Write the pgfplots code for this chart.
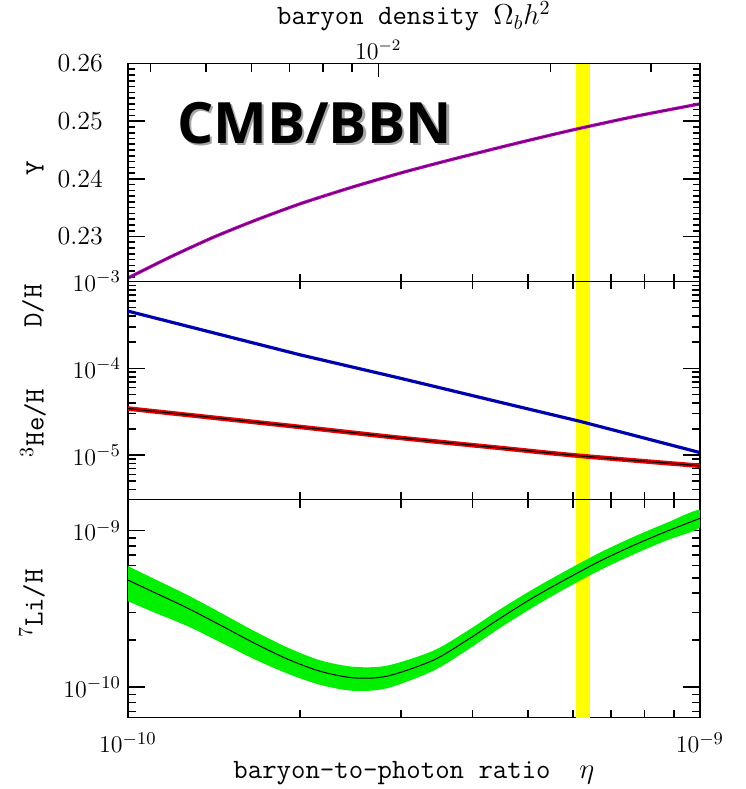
\documentclass[border=0pt]{standalone}
\usepackage{fontspec}
\usepackage{pgfplots}
\pgfplotsset{compat=1.18}
\newfontfamily\cmbfont{Open Sans}
\definecolor{mymag}{RGB}{185,0,185}
\definecolor{mymagd}{RGB}{90,0,100}
\definecolor{myblue}{RGB}{0,0,215}
\definecolor{mybluedark}{RGB}{0,0,110}
\definecolor{myred}{RGB}{235,0,0}
\definecolor{mygreen}{RGB}{0,240,0}
\definecolor{myyellow}{RGB}{255,255,0}
\pgfplotsset{
  every axis/.append style={scale only axis, width=286pt, height=109pt, anchor=south west,
    xmin=1e-10, xmax=1e-9,
    tick align=inside,
    major tick length=8.5pt, minor tick length=4pt,
    every tick/.style={black, line width=0.8pt},
    axis line style={line width=0.9pt},
    tick label style={font=\fontsize{13}{15}\selectfont}},
}
\newcommand{\lab}{\ttfamily\fontsize{14}{16}\selectfont}
\begin{document}
\begin{tikzpicture}
\path[use as bounding box] (0,0) rectangle (373pt,394.5pt);
% ---------- top panel: Y ----------
\begin{axis}[xmode=log, at={(64pt,253.75pt)},
  xtick={1e-10,1e-9}, minor xtick={2e-10,3e-10,4e-10,5e-10,6e-10,7e-10,8e-10,9e-10},
  ymin=0.2222, ymax=0.26,
  ytick={0.23,0.24,0.25,0.26}, yticklabels={0.23,0.24,0.25,0.26},
  minor ytick={0.223,0.224,0.225,0.226,0.227,0.228,0.229,0.231,0.232,0.233,0.234,0.235,0.236,0.237,0.238,0.239,0.241,0.242,0.243,0.244,0.245,0.246,0.247,0.248,0.249,0.251,0.252,0.253,0.254,0.255,0.256,0.257,0.258,0.259},
  minor tick length=3.7pt,
  xticklabels={}, xtick pos=bottom,
  yticklabel style={xshift=-9pt},
]
\addplot[fill=myyellow, draw=none] coordinates {(6.07e-10,0.2222) (6.42e-10,0.2222) (6.42e-10,0.26) (6.07e-10,0.26)};
\addplot[mymag, line width=1.6pt, smooth, tension=0.4] coordinates {
(1e-10,0.2228) (1.189e-10,0.2265) (1.413e-10,0.2299) (1.679e-10,0.2329) (2.004e-10,0.2357) (2.455e-10,0.2385) (3.02e-10,0.2411) (3.631e-10,0.2432) (4.406e-10,0.2453) (5.129e-10,0.2469) (6.067e-10,0.2486) (7.762e-10,0.2509) (1e-9,0.2530)};
\addplot[mymagd, line width=0.5pt, smooth, tension=0.4] coordinates {
(1e-10,0.2228) (1.189e-10,0.2265) (1.413e-10,0.2299) (1.679e-10,0.2329) (2.004e-10,0.2357) (2.455e-10,0.2385) (3.02e-10,0.2411) (3.631e-10,0.2432) (4.406e-10,0.2453) (5.129e-10,0.2469) (6.067e-10,0.2486) (7.762e-10,0.2509) (1e-9,0.2530)};
\end{axis}
% ---------- top overlay: Omega_b h^2 ----------
\begin{axis}[xmode=log, at={(64pt,253.75pt)},
  ymin=0, ymax=1, ytick=\empty,
  xtick={2.74e-10}, xticklabels={$10^{-2}$},
  minor xtick={1.096e-10,1.37e-10,1.644e-10,1.918e-10,2.192e-10,2.466e-10,5.48e-10,8.22e-10},
  xtick pos=top, xticklabel pos=top,
  major tick length=6.5pt,
  xticklabel style={font=\fontsize{12}{14}\selectfont, yshift=-1.5pt},
  xlabel={\lab baryon density $\Omega_b h^2$},
  xlabel style={at={(axis description cs:0.5,1)}, anchor=center, yshift=23.5pt},
]
\addplot[draw=none] coordinates {(2e-10,0.5)};
\end{axis}
% ---------- middle panel: D/H, 3He/H ----------
\begin{axis}[xmode=log, at={(64pt,144.75pt)},
  xtick={1e-10,1e-9}, minor xtick={2e-10,3e-10,4e-10,5e-10,6e-10,7e-10,8e-10,9e-10},
  ymode=log, ymin=3.08e-6, ymax=1e-3,
  ytick={1e-5,1e-4,1e-3},
  minor ytick={4e-6,5e-6,6e-6,7e-6,8e-6,9e-6,2e-5,3e-5,4e-5,5e-5,6e-5,7e-5,8e-5,9e-5,2e-4,3e-4,4e-4,5e-4,6e-4,7e-4,8e-4,9e-4},
  xticklabels={},
]
\addplot[fill=myyellow, draw=none] coordinates {(6.07e-10,3.08e-6) (6.42e-10,3.08e-6) (6.42e-10,1e-3) (6.07e-10,1e-3)};
\addplot[myblue, line width=1.6pt] coordinates {
(1e-10,4.56e-4) (2e-10,1.43e-4) (2.99e-10,7.7e-5) (4.47e-10,4.07e-5) (6.17e-10,2.45e-5) (1e-9,1.07e-5)};
\addplot[mybluedark, line width=0.5pt] coordinates {
(1e-10,4.56e-4) (2e-10,1.43e-4) (2.99e-10,7.7e-5) (4.47e-10,4.07e-5) (6.17e-10,2.45e-5) (1e-9,1.07e-5)};
\addplot[myred, line width=2.3pt, smooth] coordinates {
(1e-10,3.44e-5) (2e-10,2.11e-5) (2.99e-10,1.58e-5) (4.47e-10,1.21e-5) (6.17e-10,9.8e-6) (1e-9,7.53e-6)};
\addplot[black, line width=0.6pt, smooth] coordinates {
(1e-10,3.44e-5) (2e-10,2.11e-5) (2.99e-10,1.58e-5) (4.47e-10,1.21e-5) (6.17e-10,9.8e-6) (1e-9,7.53e-6)};
\end{axis}
% ---------- bottom panel: 7Li/H ----------
\begin{axis}[xmode=log, at={(64pt,35.75pt)},
  xtick={1e-10,1e-9}, minor xtick={2e-10,3e-10,4e-10,5e-10,6e-10,7e-10,8e-10,9e-10},
  ymode=log, ymin=6.4e-11, ymax=1.58e-9,
  ytick={1e-10,1e-9},
  minor ytick={7e-11,8e-11,9e-11,2e-10,3e-10,4e-10,5e-10,6e-10,7e-10,8e-10,9e-10},
  xticklabel style={anchor=north, yshift=-4pt},
  xlabel={\lab baryon-to-photon ratio~~$\eta$},
  xlabel style={at={(axis description cs:0.5,0)}, anchor=center, yshift=-27.75pt},
]
\addplot[fill=myyellow, draw=none] coordinates {(6.07e-10,6.4e-11) (6.42e-10,6.4e-11) (6.42e-10,1.58e-9) (6.07e-10,1.58e-9)};
% Li band: upper edge left to right, then lower edge right to left
\addplot[fill=mygreen, draw=none, smooth, tension=0.5] coordinates {
(1e-10,5.938e-10) (1.106e-10,4.961e-10) (1.268e-10,3.894e-10) (1.448e-10,3.007e-10) (1.654e-10,2.307e-10) (1.897e-10,1.798e-10) (2.166e-10,1.487e-10) (2.474e-10,1.351e-10) (2.836e-10,1.372e-10) (3.414e-10,1.706e-10) (3.914e-10,2.279e-10) (4.47e-10,3.139e-10) (5.105e-10,4.222e-10) (5.855e-10,5.59e-10) (6.686e-10,7.235e-10) (7.637e-10,9.089e-10) (8.755e-10,1.123e-9) (1e-9,1.357e-9)
(1e-9,1.048e-9) (8.755e-10,8.677e-10) (7.637e-10,7.02e-10) (6.686e-10,5.587e-10) (5.855e-10,4.318e-10) (5.105e-10,3.237e-10) (4.47e-10,2.388e-10) (3.914e-10,1.721e-10) (3.414e-10,1.27e-10) (2.836e-10,9.84e-11) (2.474e-10,9.48e-11) (2.166e-10,1.036e-10) (1.897e-10,1.225e-10) (1.654e-10,1.525e-10) (1.448e-10,1.945e-10) (1.268e-10,2.464e-10) (1.106e-10,3.026e-10) (1e-10,3.543e-10)};
\addplot[black, line width=0.5pt, smooth, tension=0.5] coordinates {
(1e-10,4.831e-10) (1.106e-10,4.064e-10) (1.268e-10,3.214e-10) (1.448e-10,2.5e-10) (1.654e-10,1.932e-10) (1.897e-10,1.517e-10) (2.166e-10,1.265e-10) (2.474e-10,1.148e-10) (2.836e-10,1.175e-10) (3.414e-10,1.483e-10) (3.914e-10,1.995e-10) (4.47e-10,2.748e-10) (5.105e-10,3.724e-10) (5.855e-10,4.932e-10) (6.686e-10,6.383e-10) (7.637e-10,8.017e-10) (8.755e-10,9.908e-10) (1e-9,1.197e-9)};
\end{axis}
% ---------- labels ----------
\node[rotate=90, font=\lab] at (17.5pt,310.5pt) {Y};
\node[rotate=90, font=\lab] at (16.5pt,241.5pt) {D/H};
\node[rotate=90, font=\lab] at (16.5pt,183pt) {$^{3}$He/H};
\node[rotate=90, font=\lab] at (16pt,92.75pt) {$^{7}$Li/H};
\node[anchor=base west, inner sep=0pt, text=black!35, font=\cmbfont\bfseries\fontsize{28.5}{30}\selectfont] at (89.6pt,321.6pt) {CMB/BBN};
\node[anchor=base west, inner sep=0pt, text=black, font=\cmbfont\bfseries\fontsize{28.5}{30}\selectfont] at (88.3pt,322.85pt) {CMB/BBN};
\end{tikzpicture}
\end{document}
